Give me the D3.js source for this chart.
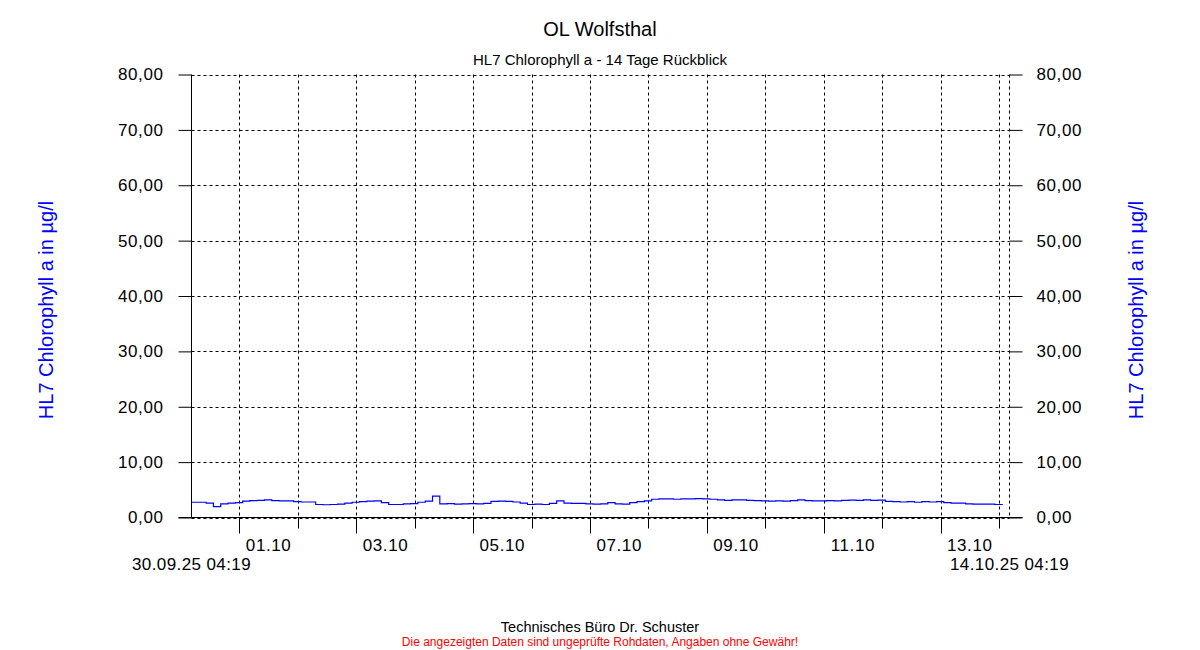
<!DOCTYPE html>
<html>
<head>
<meta charset="utf-8">
<script src="https://cdn.jsdelivr.net/npm/d3@7"></script>
<style>
  html, body { margin: 0; padding: 0; background: #fff; }
  svg { display: block; }
  text { font-family: Arial, "Liberation Sans", sans-serif; }
</style>
</head>
<body>
<svg id="chart" width="1200" height="650"></svg>
<script>
// ---- Data ----
const title = "OL Wolfsthal";
const subtitle = "HL7 Chlorophyll a - 14 Tage Rückblick";
const yLabel = "HL7 Chlorophyll a in µg/l";
const footer1 = "Technisches Büro Dr. Schuster";
const footer2 = "Die angezeigten Daten sind ungeprüfte Rohdaten, Angaben ohne Gewähr!";
const startLabel = "30.09.25 04:19";
const endLabel = "14.10.25 04:19";
const startTime = new Date(2025, 8, 30, 4, 19);
const endTime = new Date(2025, 9, 14, 4, 19);
const sampleHours = 3; // readings every 3 hours from start
const chlorophyll = [
  2.75, 2.75, 2.6, 1.95, 2.45, 2.6, 2.7, 2.95, 3.05, 3.1,
  3.2, 3.05, 3.0, 3.0, 2.85, 2.8, 2.8, 2.35, 2.3, 2.35,
  2.4, 2.6, 2.75, 2.85, 2.95, 3.0, 2.7, 2.35, 2.35, 2.45,
  2.5, 2.75, 2.95, 3.85, 2.45, 2.5, 2.4, 2.45, 2.5, 2.45,
  2.55, 2.9, 2.95, 2.9, 2.8, 2.6, 2.35, 2.4, 2.35, 2.55,
  3.0, 2.6, 2.55, 2.55, 2.45, 2.4, 2.45, 2.7, 2.45, 2.4,
  2.7, 2.85, 3.0, 3.3, 3.35, 3.35, 3.3, 3.35, 3.35, 3.4,
  3.35, 3.3, 3.2, 3.1, 3.2, 3.2, 3.1, 3.05, 3.0, 2.95,
  3.0, 2.95, 3.05, 3.2, 3.05, 3.0, 3.0, 3.05, 3.0, 3.1,
  3.15, 3.1, 3.2, 3.1, 3.15, 2.9, 2.85, 2.8, 2.85, 2.75,
  2.85, 2.8, 2.85, 2.7, 2.6, 2.6, 2.45, 2.4, 2.4, 2.4,
  2.35, 2.45
];
const yTicks = [0, 10, 20, 30, 40, 50, 60, 70, 80];
const dayTicks = ["01.10","02.10","03.10","04.10","05.10","06.10","07.10","08.10","09.10","10.10","11.10","12.10","13.10","14.10"];
const labeledDays = ["01.10","03.10","05.10","07.10","09.10","11.10","13.10"];

// ---- Layout ----
const svg = d3.select("#chart");
const plotL = 191.5, plotR = 1009.5, plotT = 74.5, plotB = 517.5;

const x = d3.scaleTime().domain([startTime, endTime]).range([plotL, plotR]);
const y = d3.scaleLinear().domain([0, 80]).range([plotB, plotT]);

const parseDay = s => { const [d, m] = s.split("."); return new Date(2025, +m - 1, +d); };
const fmt = v => d3.format(".2f")(v).replace(".", ",");

const points = chlorophyll.map((v, i) => ({ t: d3.timeHour.offset(startTime, i * sampleHours), v }));

// grid horizontal (dashed)
svg.append("g").selectAll("line").data(yTicks).join("line")
  .attr("x1", plotL).attr("x2", plotR)
  .attr("y1", d => Math.round(y(d)) + 0.5).attr("y2", d => Math.round(y(d)) + 0.5)
  .attr("stroke", "#000").attr("stroke-width", 1).attr("stroke-dasharray", "3,3");

// grid vertical (dashed)
svg.append("g").selectAll("line").data(dayTicks).join("line")
  .attr("x1", d => Math.round(x(parseDay(d))) + 0.5).attr("x2", d => Math.round(x(parseDay(d))) + 0.5)
  .attr("y1", plotT).attr("y2", plotB)
  .attr("stroke", "#000").attr("stroke-width", 1).attr("stroke-dasharray", "3,3");
svg.append("line")
  .attr("x1", plotR).attr("x2", plotR).attr("y1", plotT).attr("y2", plotB)
  .attr("stroke", "#000").attr("stroke-dasharray", "3,3");

// left axis
const leftAxis = d3.axisLeft(y).tickValues(yTicks).tickFormat(fmt).tickSize(13).tickPadding(15);
const gl = svg.append("g").attr("transform", `translate(${plotL},0)`).call(leftAxis);
gl.select(".domain").attr("d", `M0,${plotT}V${plotB}`);
// right axis
const rightAxis = d3.axisRight(y).tickValues(yTicks).tickFormat(fmt).tickSize(13).tickPadding(14);
const gr = svg.append("g").attr("transform", `translate(${plotR},0)`).call(rightAxis);
gr.select(".domain").remove();

[gl, gr].forEach(g => {
  g.selectAll(".tick text").attr("font-size", 17).attr("fill", "#000")
    .attr("font-family", "Arial, 'Liberation Sans', sans-serif").attr("letter-spacing", 0.6);
  g.selectAll(".tick line").attr("stroke", "#000");
});

// bottom axis
const gb = svg.append("g").attr("transform", `translate(0,${plotB})`);
gb.append("line").attr("x1", plotL - 13).attr("x2", plotR + 13).attr("y1", 0).attr("y2", 0).attr("stroke", "#000");
gb.selectAll("line.tk").data(dayTicks).join("line").attr("class", "tk")
  .attr("x1", d => Math.round(x(parseDay(d))) + 0.5).attr("x2", d => Math.round(x(parseDay(d))) + 0.5)
  .attr("y1", 0).attr("y2", d => labeledDays.includes(d) ? 16 : 11)
  .attr("stroke", "#000");
gb.selectAll("text").data(labeledDays).join("text")
  .attr("x", d => x(d3.timeHour.offset(parseDay(d), 12)))
  .attr("y", 33)
  .attr("text-anchor", "middle").attr("font-size", 17).attr("letter-spacing", 0.6)
  .text(d => d);

svg.append("text").attr("x", plotL).attr("y", 570).attr("text-anchor", "middle")
  .attr("font-size", 17).attr("letter-spacing", 0.4).text(startLabel);
svg.append("text").attr("x", plotR).attr("y", 570).attr("text-anchor", "middle")
  .attr("font-size", 17).attr("letter-spacing", 0.4).text(endLabel);

// data line
const line = d3.line().x(d => x(d.t)).y(d => y(d.v)).curve(d3.curveStepAfter);
svg.append("path").datum(points).attr("d", line)
  .attr("fill", "none").attr("stroke", "#0000ff").attr("stroke-width", 1.2);

// titles
svg.append("text").attr("x", 600).attr("y", 36).attr("text-anchor", "middle")
  .attr("font-size", 20).attr("fill", "#000").text(title);
svg.append("text").attr("x", 600).attr("y", 65).attr("text-anchor", "middle")
  .attr("font-size", 15).attr("fill", "#000").text(subtitle);

// y labels
svg.append("text").attr("transform", "translate(53,310) rotate(-90)").attr("text-anchor", "middle")
  .attr("font-size", 20).attr("fill", "#0000ff").text(yLabel);
svg.append("text").attr("transform", "translate(1143,310) rotate(-90)").attr("text-anchor", "middle")
  .attr("font-size", 20).attr("fill", "#0000ff").text(yLabel);

// footer
svg.append("text").attr("x", 600).attr("y", 632).attr("text-anchor", "middle")
  .attr("font-size", 14.5).attr("fill", "#000").text(footer1);
svg.append("text").attr("x", 600).attr("y", 646).attr("text-anchor", "middle")
  .attr("font-size", 12).attr("fill", "#ff0000").text(footer2);
</script>
</body>
</html>
